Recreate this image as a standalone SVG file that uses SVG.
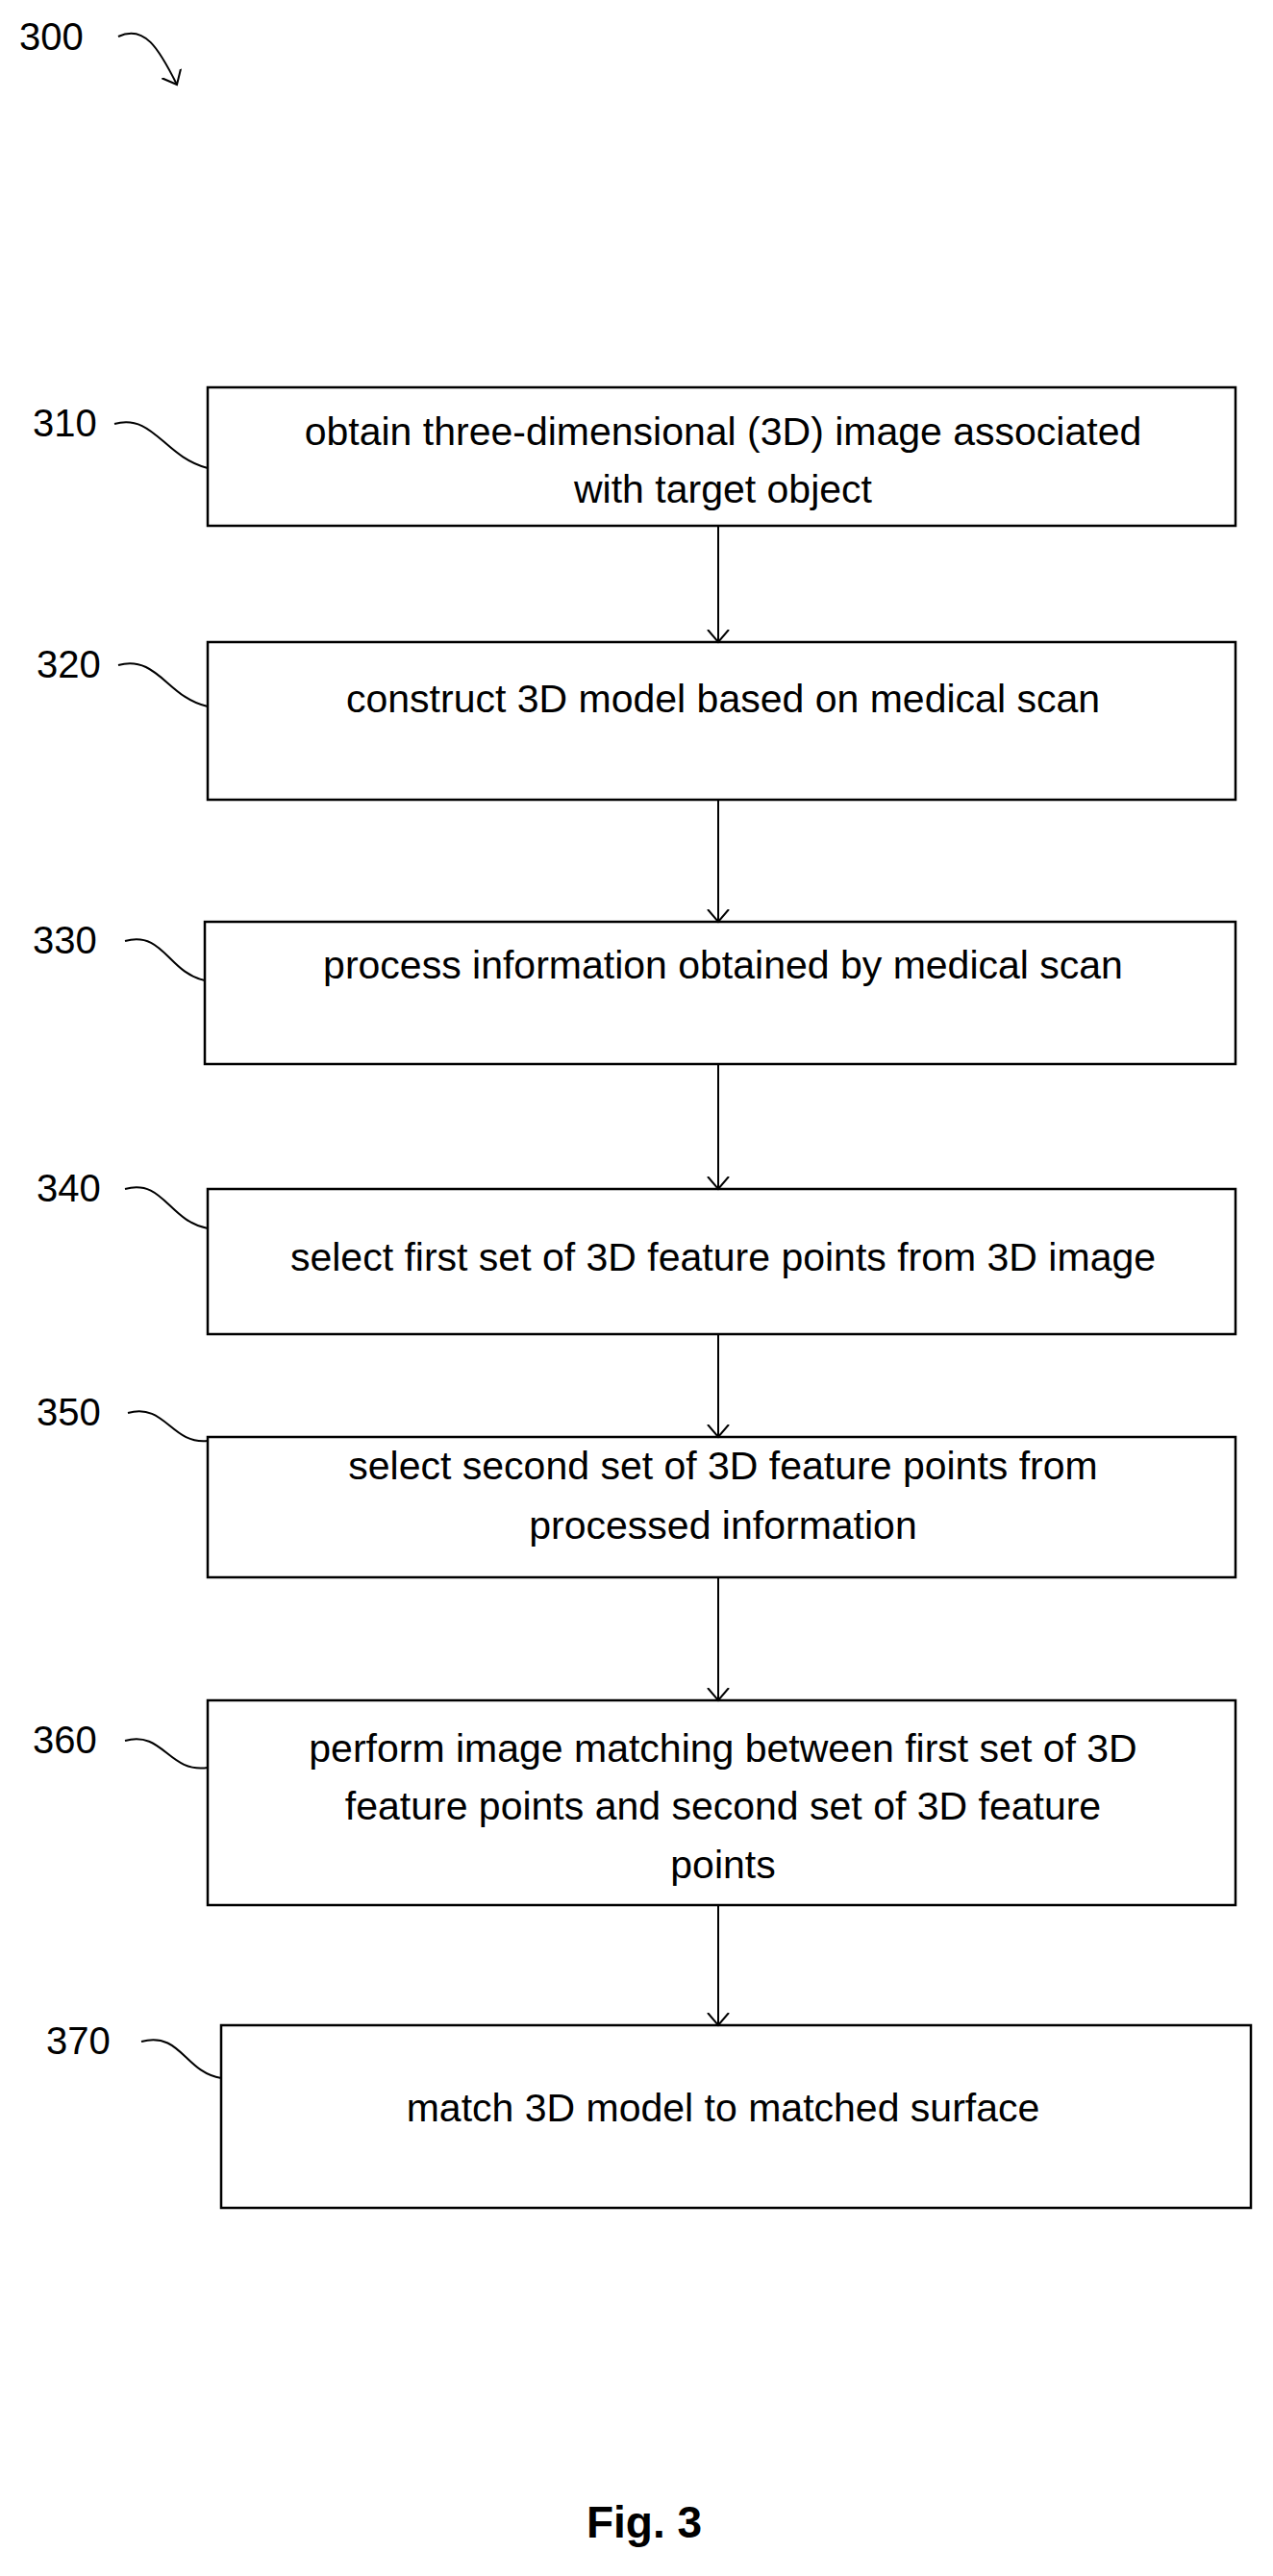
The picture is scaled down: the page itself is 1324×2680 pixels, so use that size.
<svg xmlns="http://www.w3.org/2000/svg" width="1324" height="2680" viewBox="0 0 1324 2680">
<style>
.b{fill:#fff;stroke:#000;stroke-width:2.5}
.t{font-family:"Liberation Sans",Arial,sans-serif;font-size:41px;text-anchor:middle;fill:#000}
.l{font-family:"Liberation Sans",Arial,sans-serif;font-size:40px;fill:#000}
.c{fill:none;stroke:#000;stroke-width:2}
</style>
<defs><marker id="a" markerWidth="26" markerHeight="26" refX="13" refY="13" orient="auto" markerUnits="userSpaceOnUse"><path d="M0,2 L13,13 L0,24" fill="none" stroke="#000" stroke-width="2"/></marker></defs>
<g id="n300"><text class="l" x="20" y="52">300</text><path class="c" d="M123,38 C150,25 165,50 184,88" marker-end="url(#a)"/></g>
<g id="n310"><rect class="b" x="216" y="403" width="1069" height="144"/><text class="t" x="752" y="463">obtain three-dimensional (3D) image associated</text><text class="t" x="752" y="523">with target object</text><text class="l" x="34" y="454">310</text><path class="c" d="M119,441 C160,430 170,475 216,487"/></g>
<g id="n320"><rect class="b" x="216" y="668" width="1069" height="164"/><text class="t" x="752" y="741">construct 3D model based on medical scan</text><text class="l" x="38" y="705">320</text><path class="c" d="M123,692 C164,681 174,726 216,735"/></g>
<g id="n330"><rect class="b" x="213" y="959" width="1072" height="148"/><text class="t" x="752" y="1018">process information obtained by medical scan</text><text class="l" x="34" y="992">330</text><path class="c" d="M130,979 C170,968 175,1012 213,1020"/></g>
<g id="n340"><rect class="b" x="216" y="1237" width="1069" height="151"/><text class="t" x="752" y="1322">select first set of 3D feature points from 3D image</text><text class="l" x="38" y="1250">340</text><path class="c" d="M130,1237 C170,1226 175,1270 216,1278"/></g>
<g id="n350"><rect class="b" x="216" y="1495" width="1069" height="146"/><text class="t" x="752" y="1539">select second set of 3D feature points from</text><text class="t" x="752" y="1601">processed information</text><text class="l" x="38" y="1483">350</text><path class="c" d="M133,1470 C172,1459 178,1503 216,1499"/></g>
<g id="n360"><rect class="b" x="216" y="1769" width="1069" height="213"/><text class="t" x="752" y="1833">perform image matching between first set of 3D</text><text class="t" x="752" y="1893">feature points and second set of 3D feature</text><text class="t" x="752" y="1954">points</text><text class="l" x="34" y="1824">360</text><path class="c" d="M130,1811 C170,1800 175,1845 216,1839"/></g>
<g id="n370"><rect class="b" x="230" y="2107" width="1071" height="190"/><text class="t" x="752" y="2207">match 3D model to matched surface</text><text class="l" x="48" y="2137">370</text><path class="c" d="M147,2124 C188,2113 192,2156 230,2162"/></g>
<g id="connectors">
<path class="c" d="M747,547 V668" marker-end="url(#a)"/>
<path class="c" d="M747,832 V959" marker-end="url(#a)"/>
<path class="c" d="M747,1107 V1237" marker-end="url(#a)"/>
<path class="c" d="M747,1388 V1495" marker-end="url(#a)"/>
<path class="c" d="M747,1641 V1769" marker-end="url(#a)"/>
<path class="c" d="M747,1982 V2107" marker-end="url(#a)"/>
</g>
<text x="670" y="2640" style="font-family:'Liberation Sans',Arial,sans-serif;font-size:46px;font-weight:bold;text-anchor:middle">Fig. 3</text>
</svg>
